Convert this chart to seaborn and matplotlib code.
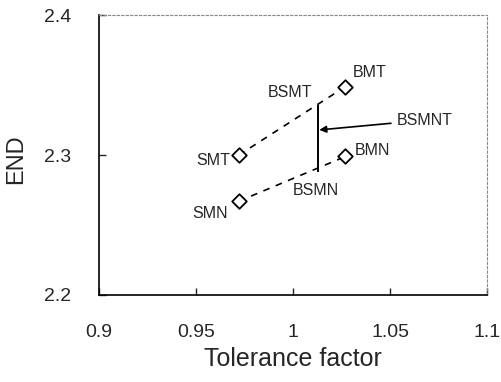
import matplotlib
matplotlib.use("Agg")
import pandas as pd
import seaborn as sns
import matplotlib.pyplot as plt

# datos
tolerancia_t = [0.972, 1.027]
end_t = [2.300, 2.349]
tolerancia_n = [0.972, 1.027]
end_n = [2.267, 2.299]
nombres_t = ["SMT", "BMT"]
nombres_n = ["SMN", "BMN"]
x_bsmnt = 1.0127
y_bsmnt = [2.288, 2.336]

df = pd.DataFrame({
    "Tolerancia": tolerancia_t + tolerancia_n,
    "END": end_t + end_n,
    "Serie": ["T", "T", "N", "N"],
    "Nombre": nombres_t + nombres_n,
})

sns.set_style("ticks")
plt.rcParams["font.family"] = ["Liberation Sans", "DejaVu Sans"]

fig = plt.figure(figsize=(5.01, 3.82), dpi=100)
ax = fig.add_axes([0.198, 0.228, 0.774, 0.732])

sns.lineplot(data=df, x="Tolerancia", y="END", units="Serie", estimator=None,
             color="black", linestyle=(0, (4, 4)), linewidth=1.2, ax=ax)
sns.scatterplot(data=df, x="Tolerancia", y="END", marker="D", s=55,
                facecolor="white", edgecolor="black", linewidth=1.3, zorder=5, ax=ax)
ax.vlines(x_bsmnt, y_bsmnt[0], y_bsmnt[1], color="black", linewidth=1.4)

fs = 11.5
ax.text(0.9675, 2.2964, "SMT", ha="right", va="center", fontsize=fs)
ax.text(0.9665, 2.258, "SMN", ha="right", va="center", fontsize=fs)
ax.text(1.0309, 2.359, "BMT", ha="left", va="center", fontsize=fs)
ax.text(1.032, 2.3036, "BMN", ha="left", va="center", fontsize=fs)
ax.text(1.0098, 2.345, "BSMT", ha="right", va="center", fontsize=fs)
ax.text(1.0119, 2.275, "BSMN", ha="center", va="center", fontsize=fs)
ax.annotate("BSMNT", xy=(1.0135, 2.318), xytext=(1.0536, 2.325),
            ha="left", va="center", fontsize=fs,
            arrowprops=dict(arrowstyle="-|>", color="black", lw=1.2,
                            mutation_scale=10, shrinkA=2, shrinkB=0))

ax.set_xlim(0.9, 1.1)
ax.set_ylim(2.2, 2.4)
ax.set_xticks([0.9, 0.95, 1.0, 1.05, 1.1])
ax.set_xticklabels(["0.9", "0.95", "1", "1.05", "1.1"])
ax.set_yticks([2.2, 2.3, 2.4])
ax.set_yticklabels(["2.2", "2.3", "2.4"])
ax.tick_params(axis="both", direction="in", length=5, width=1, labelsize=14)
ax.tick_params(axis="x", pad=21)
ax.tick_params(axis="y", pad=20)

for lado in ["top", "right"]:
    ax.spines[lado].set_linestyle((0, (2, 2)))
    ax.spines[lado].set_color("#888888")
    ax.spines[lado].set_linewidth(0.8)
for lado in ["left", "bottom"]:
    ax.spines[lado].set_color("black")
    ax.spines[lado].set_linewidth(1.2)

ax.set_xlabel("Tolerance factor", fontsize=18, labelpad=4)
ax.set_ylabel("END", fontsize=17, va="center")
ax.yaxis.set_label_coords(-0.215, 0.484)

fig.savefig("out.png", dpi=100)
